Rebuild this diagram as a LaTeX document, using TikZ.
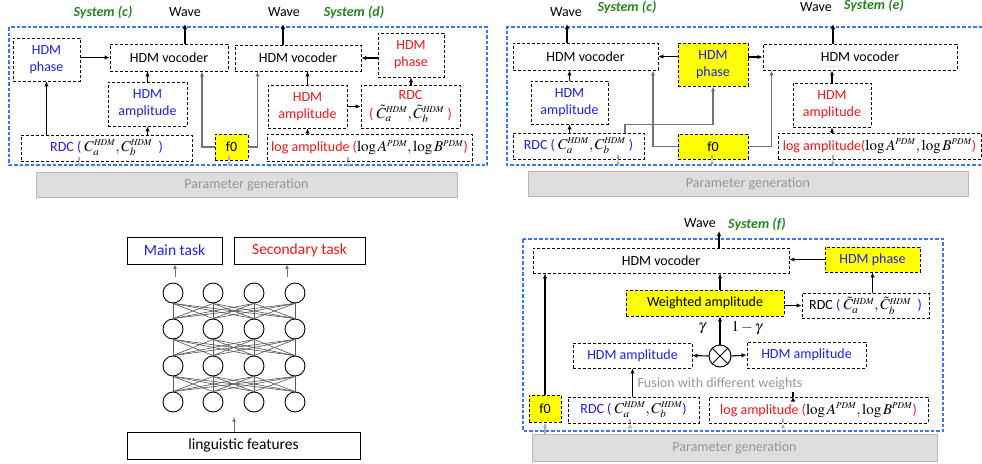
\documentclass[tikz,border=0pt]{standalone}
\usepackage{mathptmx}
\usepackage[no-math]{fontspec}
\setmainfont{Carlito}
\usetikzlibrary{arrows.meta,calc}
\definecolor{hblue}{RGB}{30,30,235}
\definecolor{hred}{RGB}{250,20,20}
\definecolor{sysgreen}{RGB}{35,135,30}
\definecolor{yfill}{RGB}{255,255,0}
\definecolor{bdash}{RGB}{50,120,255}
\definecolor{pfill}{RGB}{222,222,222}
\definecolor{pborder}{RGB}{185,185,185}
\definecolor{ptext}{RGB}{150,150,150}
\definecolor{gconn}{RGB}{115,115,115}
\definecolor{parrc}{RGB}{175,175,175}
\newcommand\myfs{\fontsize{14}{17}\selectfont}
\newcommand\mth{\fontsize{15}{17}\selectfont}
\newcommand\sps[1]{^{\scriptscriptstyle\mathit{#1}}}
\newcommand\rdcmath{{\mth$C_a\sps{HDM},C_b\sps{HDM}$}}
\newcommand\rdctmath{{\mth$\tilde{C}_a\sps{HDM},\tilde{C}_b\sps{HDM}$}}
\newcommand\logmath{{\mth$\log A\sps{PDM},\log B\sps{PDM}$}}
\begin{document}
\begin{tikzpicture}[x=1pt,y=-1pt,
  box/.style={draw=black, dash pattern=on 3pt off 2pt, line width=0.9pt, inner sep=0pt, align=center, font=\myfs},
  ybox/.style={box, fill=yfill},
  sbox/.style={draw=black, line width=0.9pt, inner sep=0pt, align=center, font=\fontsize{15.5}{18}\selectfont},
  pbox/.style={draw=pborder, fill=pfill, line width=1pt, inner sep=0pt, text=ptext, font=\myfs},
  bluedash/.style={color=bdash, dash pattern=on 3.5pt off 2pt, line width=1.1pt},
  sys/.style={text=sysgreen, font=\myfs\bfseries\itshape, inner sep=0pt},
  wave/.style={font=\myfs, inner sep=0pt},
  lbl/.style={font=\myfs, inner sep=0pt},
  arr/.style={-{Latex[length=5pt,width=4.5pt]}, line width=1.1pt, color=black},
  garr/.style={arr, color=gconn},
  parr/.style={arr, color=parrc, line width=1.3pt},
  narr/.style={-{Latex[length=4.5pt,width=4pt]}, line width=1pt, color=gconn},
  neuron/.style={circle, draw=black, line width=0.9pt, minimum size=20pt, inner sep=0pt},
  nnline/.style={line width=0.65pt, color=black!65},
  otimes/.style={circle, draw=black, line width=1pt, minimum size=22pt, inner sep=0pt}
]
\useasboundingbox (0,0) rectangle (982,463);

%%%%%%%%%%%%%%%% Top-left panel: systems (c) and (d)
\draw[bluedash] (9,27) rectangle (487,165);
\node[box,text=hblue,minimum width=67pt,minimum height=43pt] (phA) at (46.5,59.5) {HDM\\phase};
\node[box,minimum width=118pt,minimum height=27pt] (vocA1) at (169,57.5) {HDM vocoder};
\node[box,text=hblue,minimum width=79pt,minimum height=44pt] (ampA) at (147.5,104) {HDM\\amplitude};
\node[box,minimum width=171pt,minimum height=26pt] (rdcA) at (106.5,148) {\color{hblue}RDC ( \color{black}\rdcmath\ \ \color{hblue})};
\node[ybox,minimum width=33pt,minimum height=26pt] (f0A) at (231.5,147) {f0};
\node[box,minimum width=126pt,minimum height=26pt] (vocA2) at (298,58) {HDM vocoder};
\node[box,text=hred,minimum width=66pt,minimum height=44pt] (phA2) at (411,55) {HDM\\phase};
\node[box,text=hred,minimum width=79pt,minimum height=43pt] (ampA2) at (307.5,106.5) {HDM\\amplitude};
\node[box,text=hred,minimum width=99pt,minimum height=43pt,font=\fontsize{14}{19}\selectfont] (rdcA2) at (410.5,106.5) {RDC\\( {\color{black}\rdctmath} )};
\node[box,minimum width=205pt,minimum height=27pt] (logA) at (369.5,147.5) {\color{hred}log amplitude (\color{black}\logmath\color{hred})};
\node[pbox,minimum width=421pt,minimum height=25pt] (paramA) at (246.5,184.5) {Parameter generation};

\node[sys] (sysc1) at (103,12) {System (c)};
\node[wave] (waveA1) at (185,12) {Wave};
\node[wave] (waveA2) at (284,12) {Wave};
\node[sys] (sysd) at (354,12) {System (d)};
\coordinate (wA1) at (185,24);
\coordinate (wA2) at (283,24);

\draw[arr] (phA.east |- vocA1) -- (vocA1.west);
\draw[arr] (rdcA.north -| phA) -- (phA.south);
\draw[arr] (rdcA.north -| ampA) -- (ampA.south);
\draw[arr] (ampA.north) -- (ampA.north |- vocA1.south);
\draw[arr] (vocA1.north -| wA1) -- (wA1);
\draw[garr] (f0A.west) -| ($(vocA1.south)+(33,0)$);
\draw[garr] (f0A.east) -| ($(vocA2.south west)+(23,0)$);
\draw[arr] (phA2.west |- vocA2) -- (vocA2.east);
\draw[arr] (ampA2.north) -- (ampA2.north |- vocA2.south);
\draw[arr] (ampA2.east) -- (rdcA2.west);
\draw[arr] (rdcA2.north -| phA2) -- (phA2.south);
\draw[arr] (logA.north -| ampA2) -- (ampA2.south);
\draw[arr] (vocA2.north -| wA2) -- (wA2);
\draw[parr] ($(rdcA.south)+(-27.5,0)$ |- paramA.north) -- ($(rdcA.south)+(-27.5,0)$);
\draw[parr] ($(f0A.south)+(-2.5,0)$ |- paramA.north) -- ($(f0A.south)+(-2.5,0)$);
\draw[parr] ($(logA.south)+(-21.5,0)$ |- paramA.north) -- ($(logA.south)+(-21.5,0)$);

%%%%%%%%%%%%%%%% Top-right panel: systems (c) and (e)
\draw[bluedash] (982,27) -- (507,27) -- (507,165) -- (982,165);
\node[box,minimum width=145pt,minimum height=27pt] (vocB1) at (585.5,56.5) {HDM vocoder};
\node[box,text=hblue,minimum width=77pt,minimum height=43pt] (ampB) at (569.5,102.5) {HDM\\amplitude};
\node[box,minimum width=131pt,minimum height=26pt] (rdcB) at (578.5,146) {\color{hblue}RDC ( \color{black}\rdcmath\ \color{hblue})};
\node[ybox,text=hblue,minimum width=70pt,minimum height=43pt] (phB) at (713,64.5) {HDM\\phase};
\node[ybox,minimum width=70pt,minimum height=25pt] (f0B) at (713,146.5) {f0};
\node[box,minimum width=194pt,minimum height=26pt] (vocB2) at (860,57) {HDM vocoder};
\node[box,text=hred,minimum width=78pt,minimum height=44pt] (ampB2) at (832,105) {HDM\\amplitude};
\node[box,minimum width=203pt,minimum height=26pt] (logB) at (879.5,146) {\color{hred}log amplitude(\color{black}\logmath\color{hred})};
\node[pbox,minimum width=440pt,minimum height=25pt] (paramB) at (748,183.5) {Parameter generation};

\node[wave] (waveB1) at (566,12) {Wave};
\node[sys] (sysc2) at (627,7) {System (c)};
\node[wave] (waveB2) at (816,7) {Wave};
\node[sys] (syse) at (874,5) {System (e)};
\coordinate (wB1) at (567,24);
\coordinate (wB2) at (833,24);

\draw[arr] (vocB1.north -| wB1) -- (wB1);
\draw[arr] (ampB.north) -- (ampB.north |- vocB1.south);
\draw[arr] (rdcB.north -| ampB) -- (ampB.south);
\draw[arr] (phB.west |- vocB1) -- (vocB1.east);
\draw[arr] (phB.east |- vocB2) -- (vocB2.west);
\draw[garr] (f0B.west) -| ($(vocB1.south)+(67.5,0)$);
\draw[garr] (f0B.east) -| ($(vocB2.south west)+(9,0)$);
\draw[garr] ($(rdcB.north)+(46.5,0)$) -- ++(0,-8) -| (phB.south);
\draw[arr] (logB.north -| ampB2) -- (ampB2.south);
\draw[arr] (ampB2.north) -- (ampB2.north |- vocB2.south);
\draw[arr] (vocB2.north -| wB2) -- (wB2);
\draw[parr] ($(rdcB.south)+(39.5,0)$ |- paramB.north) -- ($(rdcB.south)+(39.5,0)$);
\draw[parr] ($(f0B.south)+(-1,0)$ |- paramB.north) -- ($(f0B.south)+(-1,0)$);
\draw[parr] ($(logB.south)+(-46.5,0)$ |- paramB.north) -- ($(logB.south)+(-46.5,0)$);

%%%%%%%%%%%%%%%% Bottom-left: multi-task network
\node[sbox,text=hblue,minimum width=95pt,minimum height=27pt] (mainT) at (174.5,250.5) {Main task};
\node[sbox,text=hred,minimum width=131pt,minimum height=27pt] (secT) at (299.5,250.5) {Secondary task};
\node[sbox,minimum width=233pt,minimum height=27pt] (ling) at (243.5,445.5) {linguistic features};
\foreach \i/\x in {1/173,2/213,3/254,4/295}
  \foreach \j/\y in {1/293,2/329,3/366,4/402}
    \node[neuron] (n\i\j) at (\x,\y) {};
\foreach \j/\k in {1/2,2/3,3/4}
  \foreach \a in {1,2,3,4}
    \foreach \b in {1,2,3,4}
      \draw[nnline] (n\a\j.south) -- (n\b\k.north);
\coordinate (na1) at (175,277);
\coordinate (na2) at (287,277);
\coordinate (na3) at (234,417);
\draw[narr] (na1) -- (na1 |- mainT.south);
\draw[narr] (na2) -- (na2 |- secT.south);
\draw[narr] (na3 |- ling.north) -- (na3);

%%%%%%%%%%%%%%%% Bottom-right panel: system (f)
\draw[bluedash] (523,239) rectangle (943,431);
\node[box,minimum width=256pt,minimum height=25pt] (vocC) at (661,260.5) {HDM vocoder};
\node[ybox,minimum width=158pt,minimum height=26pt] (wtC) at (705,303) {Weighted amplitude};
\node[ybox,text=hblue,minimum width=95pt,minimum height=25pt] (phC) at (872.5,259.5) {HDM phase};
\node[box,minimum width=127pt,minimum height=25pt] (rdcC2) at (865.5,305.5) {RDC {\color{hblue}(} \rdctmath\ \ {\color{hblue})}};
\node[otimes] (ot) at (720,356) {};
\draw[line width=1pt] (ot.north west) -- (ot.south east) (ot.north east) -- (ot.south west);
\node[box,text=hblue,minimum width=119pt,minimum height=25pt] (ampC1) at (632.5,355.5) {HDM amplitude};
\node[box,text=hblue,minimum width=119pt,minimum height=26pt] (ampC2) at (806.5,355) {HDM amplitude};
\node[ybox,minimum width=32pt,minimum height=27pt] (f0C) at (545,408.5) {f0};
\node[box,minimum width=131pt,minimum height=26pt] (rdcC) at (633.5,410) {\color{hblue}RDC ( \color{black}\rdcmath\color{hblue})};
\node[box,minimum width=219pt,minimum height=26pt] (logC) at (818.5,410) {\color{hred}log amplitude (\color{black}\logmath\color{hred})};
\node[pbox,minimum width=405pt,minimum height=27pt] (paramC) at (734.5,447.5) {Parameter generation};

\node[wave] (waveC) at (700,223) {Wave};
\node[sys] (sysf) at (757,224) {System (f)};
\node[lbl] (gam) at (702,328) {\mth$\gamma$};
\node[lbl] (gam1) at (747,328) {\mth$1-\gamma$};
\node[lbl,text=ptext] (fus) at (720,384) {Fusion with different weights};
\coordinate (wC) at (719,231);

\draw[arr] (vocC.north -| wC) -- (wC);
\draw[arr] (wtC.north -| ot) -- (vocC.south -| ot);
\draw[arr] (ot.north) -- (wtC.south -| ot);
\draw[arr] (ot.west) -- (ampC1.east);
\draw[arr] (ot.east) -- (ampC2.west);
\draw[arr] (wtC.east |- rdcC2) -- (rdcC2.west);
\draw[arr] (rdcC2.north -| phC) -- (phC.south);
\draw[arr] (phC.west) -- (phC.west -| vocC.east);
\draw[arr] (f0C.north) -- (f0C.north |- vocC.south);
\draw[arr] (rdcC.north -| ampC1) -- (ampC1.south);
\draw[arr] ($(logC.north)+(-25.5,0)$) -- ($(logC.north)+(-25.5,0)$ |- ampC2.south);
\draw[parr] (f0C.south |- paramC.north) -- (f0C.south);
\draw[parr] ($(rdcC.south)+(-3.5,0)$ |- paramC.north) -- ($(rdcC.south)+(-3.5,0)$);
\draw[parr] ($(logC.south)+(-35.5,0)$ |- paramC.north) -- ($(logC.south)+(-35.5,0)$);
\end{tikzpicture}
\end{document}
